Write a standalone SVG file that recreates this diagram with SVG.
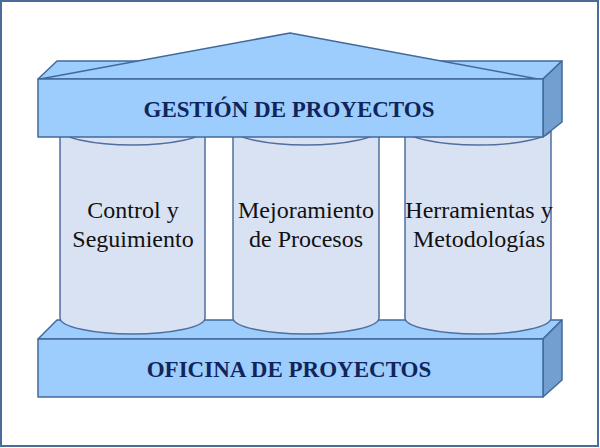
<svg xmlns="http://www.w3.org/2000/svg" width="600" height="448" viewBox="0 0 600 448">
<style>
.face{fill:#9dcdfd;stroke:#41699c;stroke-width:1.5;stroke-linejoin:round}
.side{fill:#729fd0;stroke:#41699c;stroke-width:1.5;stroke-linejoin:round}
.col{fill:#d9e2f3;stroke:#4f6f9e;stroke-width:1.5}
.title{font-family:"Liberation Serif","Times New Roman",serif;font-weight:bold;font-size:23px;fill:#10255a;text-anchor:middle}
.lbl{font-family:"Liberation Serif","Times New Roman",serif;font-size:24px;fill:#111;text-anchor:middle}
</style>
<rect x="1" y="1" width="597" height="445" fill="#fff" stroke="#4a6c9b" stroke-width="2"/>
<g id="base">
<polygon class="face" points="38,339 57,320 562,320 543,339"/>
<polygon class="side" points="543,339 562,320 562,380 543,397"/>
<rect class="face" x="38" y="339" width="505" height="58"/>
<text class="title" x="289" y="377">OFICINA DE PROYECTOS</text>
</g>
<g id="col1">
<path class="col" d="M60,129 L60,318 A72.5,16 0 0 0 205,318 L205,129 Z"/>
<ellipse class="col" cx="132.5" cy="129" rx="72.5" ry="16"/>
<text class="lbl" x="133" y="218">Control y</text>
<text class="lbl" x="133" y="247">Seguimiento</text>
</g>
<g id="col2">
<path class="col" d="M233,129 L233,318 A73,16 0 0 0 379,318 L379,129 Z"/>
<ellipse class="col" cx="306" cy="129" rx="73" ry="16"/>
<text class="lbl" x="306" y="218">Mejoramiento</text>
<text class="lbl" x="306" y="247">de Procesos</text>
</g>
<g id="col3">
<path class="col" d="M405,129 L405,318 A73,16 0 0 0 551,318 L551,129 Z"/>
<ellipse class="col" cx="478" cy="129" rx="73" ry="16"/>
<text class="lbl" x="479" y="218">Herramientas y</text>
<text class="lbl" x="479" y="247">Metodologías</text>
</g>
<g id="roof">
<polygon class="face" points="38,79 57,61 562,61 543,79"/>
<polygon class="face" points="40,79 290,33 538,79"/>
<polygon class="side" points="543,79 562,61 562,122 543,137"/>
<rect class="face" x="38" y="79" width="505" height="58"/>
<text class="title" x="289" y="117">GESTIÓN DE PROYECTOS</text>
</g>
<g id="connectors"/>
</svg>
